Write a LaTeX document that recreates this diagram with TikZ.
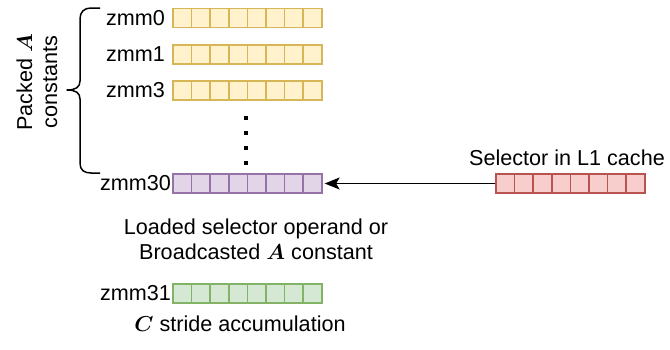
\documentclass[tikz,border=0pt]{standalone}
\usepackage{fix-cm}
\usepackage{amsmath,bm}
\usepackage{fontspec}
\setmainfont{Liberation Sans}
\usetikzlibrary{arrows.meta}

\definecolor{yfill}{HTML}{FFF2CC}\definecolor{ydraw}{HTML}{D6B656}
\definecolor{pfill}{HTML}{E1D5E7}\definecolor{pdraw}{HTML}{9673A6}
\definecolor{rfill}{HTML}{F8CECC}\definecolor{rdraw}{HTML}{B85450}
\definecolor{gfill}{HTML}{D5E8D4}\definecolor{gdraw}{HTML}{82B366}

\tikzset{
  txt/.style={font=\fontsize{21.6}{25}\selectfont, inner sep=0pt, text=black},
  % a 512-bit register drawn as eight lanes
  reg/.style 2 args={fill=#1, draw=#2, line width=1.7pt, inner sep=0pt,
    minimum width=148.8pt, minimum height=19pt,
    path picture={\foreach \i in {1,...,7}
      \draw[#2, line width=1.7pt]
        ([xshift=\i*18.6pt]path picture bounding box.south west) --
        ([xshift=\i*18.6pt]path picture bounding box.north west);}},
  regname/.style={txt, anchor=east},
  dot/.style={fill=black, minimum size=3.2pt, inner sep=0pt},
}

\begin{document}
\begin{tikzpicture}[x=1pt, y=-1pt]
\useasboundingbox (0,0) rectangle (670,349);

% registers
\node[reg={yfill}{ydraw}] (r0)  at (247.4,18)    {};
\node[reg={yfill}{ydraw}] (r1)  at (247.4,54.5)  {};
\node[reg={yfill}{ydraw}] (r3)  at (247.4,90.5)  {};
\node[reg={pfill}{pdraw}] (r30) at (247.4,183.5) {};
\node[reg={gfill}{gdraw}] (r31) at (247.4,293.5) {};
\node[reg={rfill}{rdraw}] (sel) at (570.4,183.5) {};

% register names
\node[regname] (n0)  at ([xshift=-7pt]r0.west) {zmm0};
\node[regname] (n1)  at ([xshift=-7pt]r1.west) {zmm1};
\node[regname] (n3)  at ([xshift=-7pt]r3.west) {zmm3};
\node[regname] (n30) at ([xshift=-1pt]r30.west) {zmm30};
\node[regname] (n31) at ([xshift=-1pt]r31.west) {zmm31};

% vertical ellipsis
\foreach \y [count=\k] in {118,133,148,163}
  \node[dot] (d\k) at (246,\y) {};

% load from cache into zmm30
\draw[line width=1.6pt, -{Stealth[length=15pt, width=12pt, inset=3.5pt]}]
  (sel.west) -- ([xshift=2pt]r30.east);

% captions
\node[txt, anchor=base] (cap) at (567,165) {Selector in L1 cache};
\node[txt, align=center] (load) at (256,239.5)
  {Loaded selector operand or\\Broadcasted $\boldsymbol{A}$ constant};
\node[txt, anchor=base] (acc) at (240,331)
  {$\boldsymbol{C}$ stride accumulation};

% brace grouping the packed constants
\draw[line width=1.5pt, line join=round]
  (100,8) -- (91,8) .. controls (84,8) and (80,12) .. (80,19)
  -- (80,81) .. controls (80,87) and (76,90) .. (67,90)
  .. controls (76,90) and (80,93) .. (80,99)
  -- (80,163) .. controls (80,170) and (84,173) .. (91,173) -- (100,173);
\node[txt, rotate=90, align=center] (grp) at (37,82)
  {Packed $\boldsymbol{A}$\\constants};
\end{tikzpicture}
\end{document}
